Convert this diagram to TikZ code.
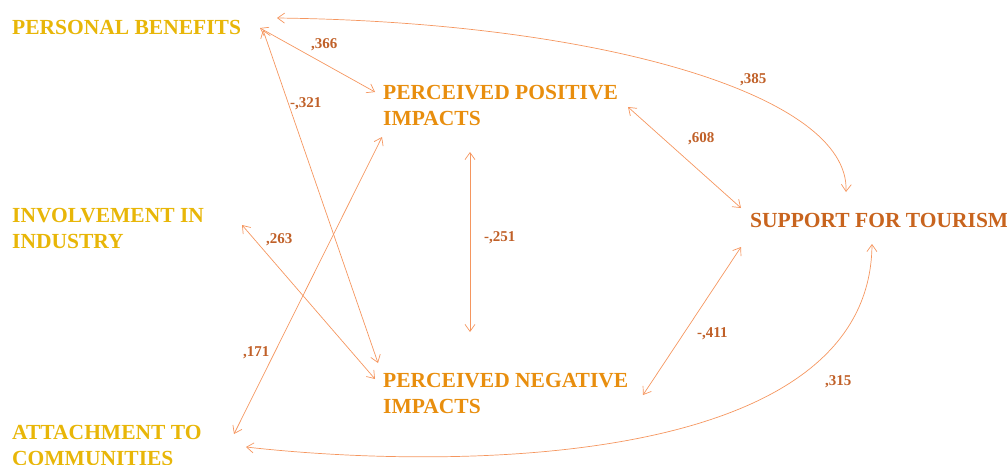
\documentclass[tikz,border=0pt]{standalone}
\usepackage{fontspec}
\setmainfont{Liberation Serif}
\usetikzlibrary{arrows.meta}
\definecolor{cyel}{RGB}{232,182,8}
\definecolor{cmid}{RGB}{232,142,14}
\definecolor{cdark}{RGB}{200,100,30}
\definecolor{clbl}{RGB}{192,96,40}
\definecolor{cline}{RGB}{245,150,95}
\begin{document}
\begin{tikzpicture}[x=1pt,y=-1pt,
  txt/.style={inner sep=0pt, font=\fontsize{21.5}{26}\selectfont\bfseries, align=left, anchor=north west},
  lbl/.style={inner sep=0pt, font=\fontsize{15}{18}\selectfont\bfseries, text=clbl, anchor=base west},
  link/.style={draw=cline, line width=0.7pt, {Straight Barb[length=7pt,width=10pt]}-{Straight Barb[length=7pt,width=10pt]}}]
\useasboundingbox (0,0) rectangle (1007,464);
\node[txt,text=cyel] (pb) at (12,20) {PERSONAL BENEFITS};
\node[txt,text=cyel] (inv) at (12,208) {INVOLVEMENT IN\\INDUSTRY};
\node[txt,text=cyel] (att) at (12,425) {ATTACHMENT TO\\COMMUNITIES};
\node[txt,text=cmid] (ppi) at (383,85) {PERCEIVED POSITIVE\\IMPACTS};
\node[txt,text=cmid] (pni) at (383,373) {PERCEIVED NEGATIVE\\IMPACTS};
\node[txt,text=cdark] (sup) at (750,213) {SUPPORT FOR TOURISM};
% connector end points
\coordinate (pbA) at (260,28);
\coordinate (pbB) at (263,30);
\coordinate (pbC) at (277,18);
\coordinate (invA) at (242,225);
\coordinate (attA) at (234,434);
\coordinate (attB) at (246,447);
\coordinate (ppiA) at (375,92);
\coordinate (ppiB) at (382,137);
\coordinate (ppiC) at (470,152);
\coordinate (ppiD) at (628,107);
\coordinate (pniA) at (378,363);
\coordinate (pniB) at (375,379);
\coordinate (pniC) at (470,332);
\coordinate (pniD) at (643,395);
\coordinate (supA) at (741,208);
\coordinate (supB) at (741,247);
\coordinate (supC) at (846,192);
\coordinate (supD) at (872,244);
% connectors
\draw[link] (pbA) -- (ppiA);
\draw[link] (pbB) -- (pniA);
\draw[link] (invA) -- (pniB);
\draw[link] (attA) -- (ppiB);
\draw[link] (ppiC) -- (pniC);
\draw[link] (ppiD) -- (supA);
\draw[link] (pniD) -- (supB);
\draw[link] (pbC) .. controls (600,22) and (850,95) .. (supC);
\draw[link] (attB) .. controls (450,470) and (870,470) .. (supD);
% labels
\node[lbl] (l1) at (311,48) {,366};
\node[lbl] (l2) at (290,107) {-,321};
\node[lbl] (l3) at (266,243) {,263};
\node[lbl] (l4) at (243,356) {,171};
\node[lbl] (l5) at (484,241) {-,251};
\node[lbl] (l6) at (688,142) {,608};
\node[lbl] (l7) at (697,337) {-,411};
\node[lbl] (l8) at (825,385) {,315};
\node[lbl] (l9) at (740,83) {,385};
\end{tikzpicture}
\end{document}
